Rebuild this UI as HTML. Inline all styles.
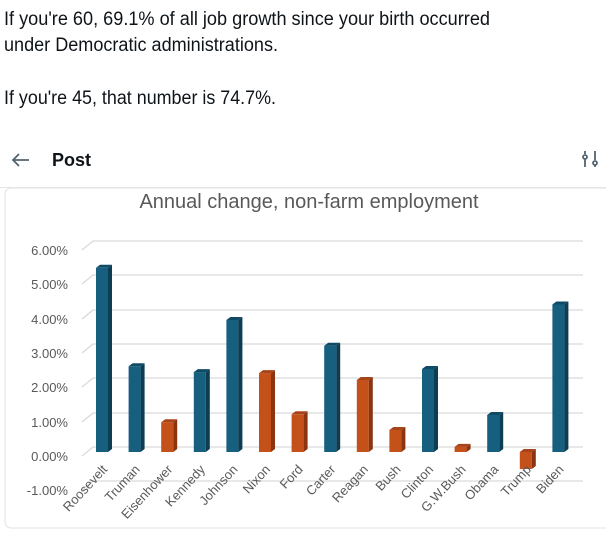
<!DOCTYPE html>
<html><head><meta charset="utf-8"><style>
html,body{margin:0;padding:0;background:#fff;width:606px;height:535px;overflow:hidden}
svg{display:block}
</style></head><body>
<svg width="606" height="535" xmlns="http://www.w3.org/2000/svg" font-family="Liberation Sans, sans-serif">
<g fill="#0f1419" font-size="19">
<text x="4" y="25" textLength="486" lengthAdjust="spacingAndGlyphs">If you're 60, 69.1% of all job growth since your birth occurred</text>
<text x="4" y="51" textLength="274" lengthAdjust="spacingAndGlyphs">under Democratic administrations.</text>
<text x="4" y="104" textLength="272" lengthAdjust="spacingAndGlyphs">If you're 45, that number is 74.7%.</text>
</g>
<g stroke="#536471" stroke-width="1.8" fill="none">
<path d="M13 160 H29 M19 154 L13 160 L19 166"/>
<circle cx="585" cy="157" r="2"/><path d="M585 151 V154 M585 159 V167"/>
<circle cx="595" cy="163" r="2"/><path d="M595 151 V160 M595 165 V167"/>
</g>
<text x="52" y="166" font-size="18" font-weight="bold" fill="#0f1419">Post</text>
<rect x="0" y="187" width="606" height="1" fill="#e3e6ea"/>
<rect x="5" y="188" width="620" height="340" rx="6" fill="#fff" stroke="#e2e2e2"/>
<text x="309" y="208" font-size="20" fill="#595959" text-anchor="middle">Annual change, non-farm employment</text>
<g stroke="#d9d9d9" stroke-width="1.2" fill="none">
<path d="M82 250 L93 241 H583"/>
<path d="M82 284 L93 275 H583"/>
<path d="M82 319 L93 310 H583"/>
<path d="M82 353 L93 344 H583"/>
<path d="M82 387 L93 378 H583"/>
<path d="M82 422 L93 413 H583"/>
<path d="M82 456 L93 447 H583"/>
<path d="M82 490 L93 481 H583"/>
</g>
<g font-size="13" fill="#595959" text-anchor="end">
<text x="68" y="255">6.00%</text>
<text x="68" y="289">5.00%</text>
<text x="68" y="324">4.00%</text>
<text x="68" y="358">3.00%</text>
<text x="68" y="392">2.00%</text>
<text x="68" y="427">1.00%</text>
<text x="68" y="461">0.00%</text>
<text x="68" y="495">-1.00%</text>
</g>
<g>
<g transform="translate(96,267.8)"><rect width="12" height="184.2" fill="#175f7f"/><polygon points="12,0 16,-3 16,181.2 12,184.2" fill="#0c3d53"/><polygon points="0,0 4,-3 16,-3 12,0" fill="#0f4b66"/></g>
<g transform="translate(128.6,366.25)"><rect width="12" height="85.75" fill="#175f7f"/><polygon points="12,0 16,-3 16,82.75 12,85.75" fill="#0c3d53"/><polygon points="0,0 4,-3 16,-3 12,0" fill="#0f4b66"/></g>
<g transform="translate(161.2,422.2)"><rect width="12" height="29.8" fill="#c4501a"/><polygon points="12,0 16,-3 16,26.8 12,29.8" fill="#8a3510"/><polygon points="0,0 4,-3 16,-3 12,0" fill="#a8441a"/></g>
<g transform="translate(193.8,372.1)"><rect width="12" height="79.9" fill="#175f7f"/><polygon points="12,0 16,-3 16,76.9 12,79.9" fill="#0c3d53"/><polygon points="0,0 4,-3 16,-3 12,0" fill="#0f4b66"/></g>
<g transform="translate(226.4,320)"><rect width="12" height="132" fill="#175f7f"/><polygon points="12,0 16,-3 16,129 12,132" fill="#0c3d53"/><polygon points="0,0 4,-3 16,-3 12,0" fill="#0f4b66"/></g>
<g transform="translate(259,373.1)"><rect width="12" height="78.9" fill="#c4501a"/><polygon points="12,0 16,-3 16,75.9 12,78.9" fill="#8a3510"/><polygon points="0,0 4,-3 16,-3 12,0" fill="#a8441a"/></g>
<g transform="translate(291.6,414.3)"><rect width="12" height="37.7" fill="#c4501a"/><polygon points="12,0 16,-3 16,34.7 12,37.7" fill="#8a3510"/><polygon points="0,0 4,-3 16,-3 12,0" fill="#a8441a"/></g>
<g transform="translate(324.2,345.7)"><rect width="12" height="106.3" fill="#175f7f"/><polygon points="12,0 16,-3 16,103.3 12,106.3" fill="#0c3d53"/><polygon points="0,0 4,-3 16,-3 12,0" fill="#0f4b66"/></g>
<g transform="translate(356.8,380)"><rect width="12" height="72" fill="#c4501a"/><polygon points="12,0 16,-3 16,69 12,72" fill="#8a3510"/><polygon points="0,0 4,-3 16,-3 12,0" fill="#a8441a"/></g>
<g transform="translate(389.4,430)"><rect width="12" height="22" fill="#c4501a"/><polygon points="12,0 16,-3 16,19 12,22" fill="#8a3510"/><polygon points="0,0 4,-3 16,-3 12,0" fill="#a8441a"/></g>
<g transform="translate(422,369)"><rect width="12" height="83" fill="#175f7f"/><polygon points="12,0 16,-3 16,80 12,83" fill="#0c3d53"/><polygon points="0,0 4,-3 16,-3 12,0" fill="#0f4b66"/></g>
<g transform="translate(454.6,446.9)"><rect width="12" height="5.1" fill="#c4501a"/><polygon points="12,0 16,-3 16,2.1 12,5.1" fill="#8a3510"/><polygon points="0,0 4,-3 16,-3 12,0" fill="#a8441a"/></g>
<g transform="translate(487.2,415)"><rect width="12" height="37" fill="#175f7f"/><polygon points="12,0 16,-3 16,34 12,37" fill="#0c3d53"/><polygon points="0,0 4,-3 16,-3 12,0" fill="#0f4b66"/></g>
<g transform="translate(519.8,452)"><rect width="12" height="17" fill="#c4501a"/><polygon points="12,0 16,-3 16,14 12,17" fill="#8a3510"/><polygon points="0,0 4,-3 16,-3 12,0" fill="#a8441a"/></g>
<g transform="translate(552.4,304.5)"><rect width="12" height="147.5" fill="#175f7f"/><polygon points="12,0 16,-3 16,144.5 12,147.5" fill="#0c3d53"/><polygon points="0,0 4,-3 16,-3 12,0" fill="#0f4b66"/></g>
</g>
<g font-size="13" fill="#595959" text-anchor="end">
<text transform="translate(108,470) rotate(-47)">Roosevelt</text>
<text transform="translate(140.6,470) rotate(-47)">Truman</text>
<text transform="translate(173.2,470) rotate(-47)">Eisenhower</text>
<text transform="translate(205.8,470) rotate(-47)">Kennedy</text>
<text transform="translate(238.4,470) rotate(-47)">Johnson</text>
<text transform="translate(271,470) rotate(-47)">Nixon</text>
<text transform="translate(303.6,470) rotate(-47)">Ford</text>
<text transform="translate(336.2,470) rotate(-47)">Carter</text>
<text transform="translate(368.8,470) rotate(-47)">Reagan</text>
<text transform="translate(401.4,470) rotate(-47)">Bush</text>
<text transform="translate(434,470) rotate(-47)">Clinton</text>
<text transform="translate(466.6,470) rotate(-47)">G.W.Bush</text>
<text transform="translate(499.2,470) rotate(-47)">Obama</text>
<text transform="translate(531.8,470) rotate(-47)">Trump</text>
<text transform="translate(564.4,470) rotate(-47)">Biden</text>
</g>
</svg>
</body></html>
